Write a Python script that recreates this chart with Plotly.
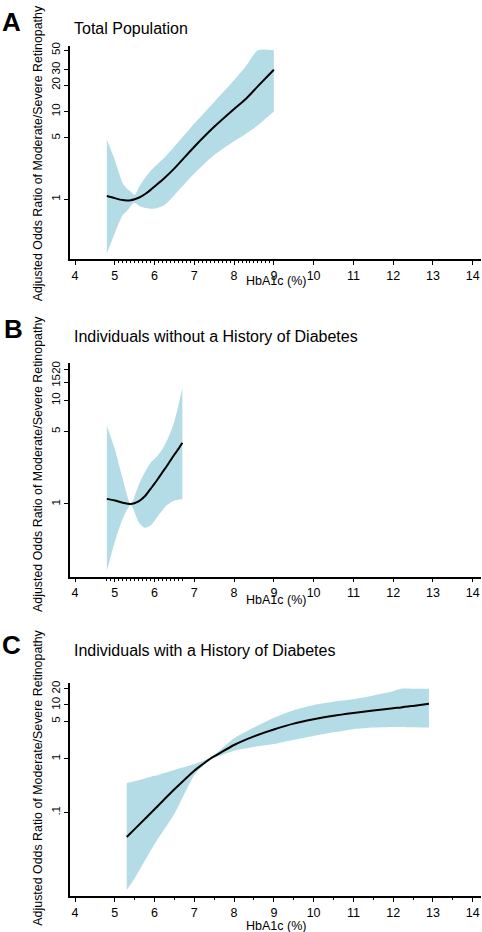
import plotly.graph_objects as go

# ---------------- data ----------------
# Panel A: Total Population
a_x     = [4.8, 5.0, 5.2, 5.3, 5.4, 5.5, 5.6, 5.7, 5.8, 5.9, 6.0, 6.25, 6.5, 7.0, 7.5, 8.0, 8.3, 8.6, 9.0]
a_or    = [1.09, 1.03, 0.98, 0.97, 0.975, 1.0, 1.04, 1.1, 1.18, 1.28, 1.4, 1.75, 2.25, 3.97, 6.7, 10.7, 14.0, 19.5, 30.0]
a_upper = [4.8, 2.8, 1.52, 1.33, 1.23, 1.12, 1.35, 1.6, 1.85, 2.1, 2.35, 3.0, 4.0, 7.3, 12.9, 22.7, 33.0, 50.0, 50.0]
a_lower = [0.24, 0.41, 0.66, 0.73, 0.84, 0.92, 0.85, 0.81, 0.79, 0.78, 0.78, 0.86, 1.12, 1.97, 3.2, 4.6, 5.6, 7.0, 10.0]

# Panel B: Individuals without a History of Diabetes
b_x     = [4.8, 5.0, 5.2, 5.4, 5.6, 5.75, 5.9, 6.0, 6.1, 6.2, 6.3, 6.4, 6.5, 6.6, 6.7]
b_or    = [1.12, 1.08, 1.03, 1.0, 1.06, 1.18, 1.4, 1.57, 1.78, 2.03, 2.3, 2.63, 3.0, 3.4, 3.9]
b_upper = [5.7, 3.4, 1.75, 1.0, 1.52, 2.0, 2.5, 2.73, 3.0, 3.4, 4.0, 4.9, 6.3, 8.9, 13.3]
b_lower = [0.225, 0.43, 0.72, 0.98, 0.67, 0.59, 0.62, 0.69, 0.78, 0.87, 0.97, 1.03, 1.08, 1.1, 1.11]

# Panel C: Individuals with a History of Diabetes
c_x     = [5.3, 5.5, 6.0, 6.5, 7.0, 7.2, 7.4, 7.6, 8.0, 8.5, 9.0, 9.5, 10.0, 10.5, 11.0, 11.5, 12.0, 12.2, 12.5, 12.9]
c_or    = [0.035, 0.049, 0.115, 0.27, 0.6, 0.78, 1.0, 1.22, 1.8, 2.6, 3.5, 4.5, 5.4, 6.3, 7.1, 7.9, 8.7, 9.0, 9.6, 10.5]
c_upper = [0.355, 0.38, 0.48, 0.62, 0.8, 0.9, 1.05, 1.35, 2.4, 3.8, 5.8, 8.0, 10.0, 11.5, 12.7, 15.0, 18.0, 20.0, 20.0, 20.0]
c_lower = [0.0036, 0.006, 0.026, 0.095, 0.5, 0.72, 0.97, 1.1, 1.4, 1.65, 1.87, 2.25, 2.66, 3.1, 3.55, 3.8, 3.9, 3.9, 3.85, 3.8]

x_ticks = [4, 5, 6, 7, 8, 9, 10, 11, 12, 13, 14]
a_yticks = [1, 5, 10, 20, 30, 50]
b_yticks = [1, 5, 10, 15, 20]
c_yticks = [0.1, 1, 5, 10, 20]
c_yticklabels = [".1", "1", "5", "10", "20"]

a_rug = [round(5.1 + 0.1 * i, 1) for i in range(39)]
b_rug = [round(4.8 + 0.1 * i, 1) for i in range(20)]
c_rug = [5.5, 6.5, 7.5, 8.5, 9.5, 10.5, 11.5, 12.5, 13.5]

titles = ["Total Population",
          "Individuals without a History of Diabetes",
          "Individuals with a History of Diabetes"]
letters = ["A", "B", "C"]
y_title = "Adjusted Odds Ratio of Moderate/Severe Retinopathy"
x_title = "HbA1c (%)"

# ---------------- layout geometry (pixels) ----------------
W, H = 482, 932
FONT = "Liberation Sans, Arial, sans-serif"
BAND = "rgb(180,220,230)"


def py(p):
    return 1 - p / H


x_dom = [70 / W, 481 / W]
x_rng = [3.874, 14.209]
panels = [
    dict(x=a_x, o=a_or, u=a_upper, l=a_lower, top=42, bot=256, rng=[-0.68, 1.75],
         yt=a_yticks, ytl=[str(v) for v in a_yticks], rug=a_rug,
         title_y=24.5, letter_y=18, letter_x=11, xtitle_y=278.5, ytitle_y=150),
    dict(x=b_x, o=b_or, u=b_upper, l=b_lower, top=361, bot=575, rng=[-0.70, 1.356],
         yt=b_yticks, ytl=[str(v) for v in b_yticks], rug=b_rug,
         title_y=333.5, letter_y=326.5, letter_x=13, xtitle_y=599, ytitle_y=462),
    dict(x=c_x, o=c_or, u=c_upper, l=c_lower, top=682, bot=896, rng=[-2.556, 1.407],
         yt=c_yticks, ytl=c_yticklabels, rug=c_rug,
         title_y=649.5, letter_y=643.5, letter_x=11, xtitle_y=925.5, ytitle_y=777),
]

fig = go.Figure()
annotations = []
for i, p in enumerate(panels):
    n = "" if i == 0 else str(i + 1)
    xa, ya = "x" + n, "y" + n
    fig.add_trace(go.Scatter(x=p["x"], y=p["u"], mode="lines",
                             line=dict(width=0, color=BAND, shape="spline", smoothing=0.7),
                             xaxis=xa, yaxis=ya, showlegend=False, hoverinfo="skip"))
    fig.add_trace(go.Scatter(x=p["x"], y=p["l"], mode="lines",
                             line=dict(width=0, color=BAND, shape="spline", smoothing=0.7),
                             fill="tonexty", fillcolor=BAND,
                             xaxis=xa, yaxis=ya, showlegend=False, hoverinfo="skip"))
    fig.add_trace(go.Scatter(x=p["x"], y=p["o"], mode="lines",
                             line=dict(width=2, color="black", shape="spline", smoothing=0.8),
                             xaxis=xa, yaxis=ya, showlegend=False))

    fig.layout["xaxis" + n] = dict(
        domain=x_dom, range=x_rng, anchor=ya, showline=True, linecolor="black", linewidth=1.5,
        ticks="outside", ticklen=4, tickwidth=1.2, tickcolor="black",
        tickvals=x_ticks, ticktext=[str(v) for v in x_ticks],
        tickfont=dict(family=FONT, size=12.5, color="black"),
        showgrid=False, zeroline=False,
        minor=dict(tickvals=p["rug"], ticks="outside", ticklen=2.5, tickwidth=1, tickcolor="black", showgrid=False),
    )
    fig.layout["yaxis" + n] = dict(
        domain=[py(p["bot"]), py(p["top"])], type="log", range=p["rng"], anchor=xa,
        showline=True, linecolor="black", linewidth=1.5,
        ticks="outside", ticklen=4, tickwidth=1.2, tickcolor="black",
        tickvals=p["yt"], ticktext=p["ytl"], tickangle=-90,
        tickfont=dict(family=FONT, size=11.5, color="black"),
        showgrid=False, zeroline=False,
    )
    annotations.append(dict(text=titles[i], x=72 / W, y=py(p["title_y"]), xref="paper", yref="paper",
                            xanchor="left", yanchor="middle", showarrow=False,
                            font=dict(family=FONT, size=16, color="black")))
    annotations.append(dict(text="<b>" + letters[i] + "</b>", x=p["letter_x"] / W, y=py(p["letter_y"]),
                            xref="paper", yref="paper", xanchor="center", yanchor="middle", showarrow=False,
                            font=dict(family=FONT, size=26, color="black")))
    annotations.append(dict(text=y_title, x=38 / W, y=py(p["ytitle_y"]), xref="paper", yref="paper",
                            xanchor="center", yanchor="middle", textangle=-90, showarrow=False,
                            font=dict(family=FONT, size=12.4, color="black")))
    annotations.append(dict(text=x_title, x=276 / W, y=py(p["xtitle_y"]), xref="paper", yref="paper",
                            xanchor="center", yanchor="middle", showarrow=False,
                            font=dict(family=FONT, size=12.5, color="black")))

fig.update_layout(width=W, height=H, margin=dict(l=0, r=0, t=0, b=0),
                  paper_bgcolor="white", plot_bgcolor="white",
                  annotations=annotations, showlegend=False)

post = ("document.body.style.margin='0';document.body.style.padding='0';"
        "document.body.style.overflow='hidden';"
        "var d=document.getElementById('{plot_id}');"
        "d.style.position='absolute';d.style.left='0px';d.style.top='0px';")
fig.write_html("out.html", post_script=post, config={"displayModeBar": False})
